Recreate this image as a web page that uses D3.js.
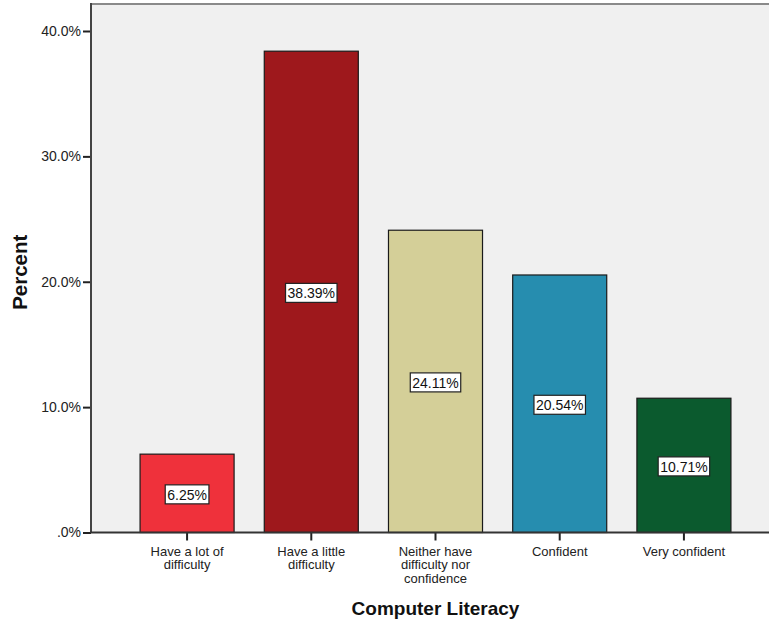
<!DOCTYPE html>
<html>
<head>
<meta charset="utf-8">
<script src="https://cdn.jsdelivr.net/npm/d3@7"></script>
<style>
  html, body { margin: 0; padding: 0; background: #fff; }
  svg { display: block; font-family: "Liberation Sans", Arial, sans-serif; }
</style>
</head>
<body>
<svg id="chart" width="769" height="621"></svg>
<script>
// Computer literacy response distribution
const categories = [
  ["Have a lot of", "difficulty"],
  ["Have a little", "difficulty"],
  ["Neither have", "difficulty nor", "confidence"],
  ["Confident"],
  ["Very confident"]
];
const percents = [6.25, 38.39, 24.11, 20.54, 10.71];
const barColors = ["#EF313B", "#9E181C", "#D4CF98", "#268DAF", "#0B5A2E"];
const yTicks = [0, 10, 20, 30, 40];
const yTickLabels = [".0%", "10.0%", "20.0%", "30.0%", "40.0%"];

const svg = d3.select("#chart");
const plot = { left: 91, right: 780, top: 4, bottom: 532.5 };

const keys = categories.map((c, i) => i);
const x = d3.scaleBand()
  .domain(keys)
  .range([plot.left, plot.right])
  .paddingInner(0.243)
  .paddingOuter(0.395);

const y = d3.scaleLinear()
  .domain([0, 40])
  .range([plot.bottom, 31]);

// plot background
svg.append("rect")
  .attr("x", plot.left).attr("y", plot.top)
  .attr("width", plot.right - plot.left)
  .attr("height", plot.bottom - plot.top)
  .attr("fill", "#F0F0F0");

// top frame line
svg.append("line")
  .attr("x1", plot.left).attr("x2", plot.right)
  .attr("y1", plot.top).attr("y2", plot.top)
  .attr("stroke", "#8a8a8a").attr("stroke-width", 2);

// bars
svg.append("g").selectAll("rect")
  .data(percents)
  .join("rect")
  .attr("x", (d, i) => x(i))
  .attr("y", d => y(d))
  .attr("width", x.bandwidth())
  .attr("height", d => y(0) - y(d))
  .attr("fill", (d, i) => barColors[i])
  .attr("stroke", "#1a1a1a")
  .attr("stroke-width", 1.2);

// value labels in boxes
const labels = svg.append("g").selectAll("g")
  .data(percents)
  .join("g")
  .attr("transform", (d, i) => `translate(${x(i) + x.bandwidth() / 2},${(y(d) + y(0)) / 2 + 1.5})`);
labels.append("text")
  .attr("text-anchor", "middle")
  .attr("dy", "0.36em")
  .attr("font-size", 14)
  .attr("fill", "#111")
  .text(d => d.toFixed(2) + "%");
labels.each(function() {
  const g = d3.select(this);
  const bb = g.select("text").node().getBBox();
  g.insert("rect", "text")
    .attr("x", bb.x - 2).attr("y", bb.y - 2)
    .attr("width", bb.width + 4).attr("height", bb.height + 3)
    .attr("fill", "#fff")
    .attr("stroke", "#222").attr("stroke-width", 1.2);
});

// y axis
const yAxis = d3.axisLeft(y)
  .tickValues(yTicks)
  .tickFormat((d, i) => yTickLabels[i])
  .tickSize(8)
  .tickPadding(2);
const gy = svg.append("g")
  .attr("transform", `translate(${plot.left},0)`)
  .call(yAxis);
gy.select(".domain").remove();
gy.selectAll(".tick line").attr("stroke", "#222").attr("stroke-width", 2);
gy.selectAll(".tick text").attr("font-size", 14).attr("fill", "#222")
  .attr("font-family", "'Liberation Sans', Arial, sans-serif");
svg.append("line")
  .attr("x1", plot.left).attr("x2", plot.left)
  .attr("y1", plot.top - 1).attr("y2", plot.bottom)
  .attr("stroke", "#444").attr("stroke-width", 2);

// x axis
const xAxis = d3.axisBottom(x).tickSize(8).tickFormat("");
const gx = svg.append("g")
  .attr("transform", `translate(0,${plot.bottom})`)
  .call(xAxis);
gx.select(".domain").remove();
gx.selectAll(".tick line").attr("stroke", "#222").attr("stroke-width", 2);
svg.append("line")
  .attr("x1", plot.left - 1).attr("x2", plot.right)
  .attr("y1", plot.bottom).attr("y2", plot.bottom)
  .attr("stroke", "#333").attr("stroke-width", 2);

// category labels (multi-line)
const catText = svg.append("g").selectAll("text")
  .data(categories)
  .join("text")
  .attr("text-anchor", "middle")
  .attr("font-size", 13)
  .attr("fill", "#222")
  .attr("x", (d, i) => x(i) + x.bandwidth() / 2)
  .attr("y", 555.5);
catText.selectAll("tspan")
  .data(d => d)
  .join("tspan")
  .attr("x", function() { return d3.select(this.parentNode).attr("x"); })
  .attr("dy", (d, j) => j === 0 ? 0 : 13.5)
  .text(d => d);

// axis titles
svg.append("text")
  .attr("x", (plot.left + plot.right) / 2)
  .attr("y", 615)
  .attr("text-anchor", "middle")
  .attr("font-size", 19)
  .attr("font-weight", "bold")
  .attr("fill", "#111")
  .text("Computer Literacy");

svg.append("text")
  .attr("transform", `translate(27,${(plot.top + plot.bottom) / 2 + 4}) rotate(-90)`)
  .attr("text-anchor", "middle")
  .attr("font-size", 20.5)
  .attr("font-weight", "bold")
  .attr("fill", "#111")
  .text("Percent");
</script>
</body>
</html>
